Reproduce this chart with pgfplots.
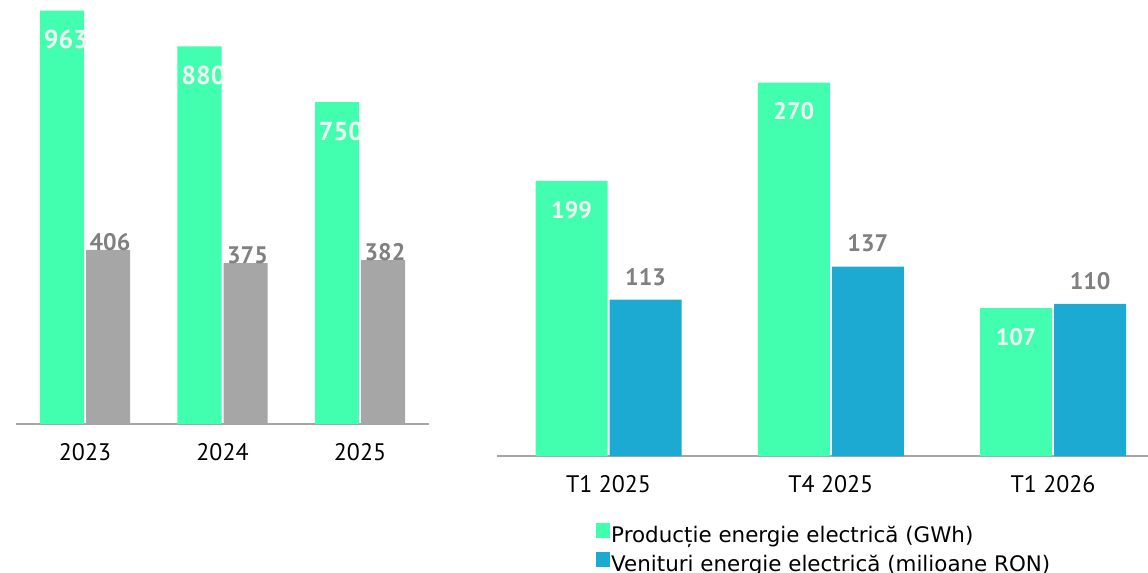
\documentclass[border=0pt]{standalone}
\usepackage{fontspec}
\setmainfont{PT Sans}
\newfontfamily\legfont{DejaVu Sans}
\usepackage{pgfplots}
\usepackage{pgfplotstable}
\pgfplotsset{compat=1.18}

\definecolor{verde}{HTML}{42FFB0}
\definecolor{gri}{HTML}{A6A6A6}
\definecolor{albastru}{HTML}{1DAAD2}
\definecolor{eticheta}{HTML}{808080}
\definecolor{alb}{HTML}{F2F2F2}

% productie anuala (GWh) si a doua serie (gri)
\pgfplotstableread{
x verde gri
0 963 406
1 880 375
2 750 382
}\anual

% trimestrial: productie (GWh) si venituri (mil. RON)
\pgfplotstableread{
x verde albastru
0 199 113
1 270 137
2 107 110
}\trimestrial

\pgfplotsset{
  simplu/.style={
    scale only axis, anchor=south west,
    axis x line=bottom, axis y line=none,
    x axis line style={-, draw=gri, line width=1.5bp},
    ymin=0, xtick=data, ytick=\empty, major tick length=0,
    xticklabel style={font=\fontsize{24}{28}\selectfont, anchor=center, yshift=-28bp},
    /pgf/number format/assume math mode=true,
    clip=false,
  },
  % eticheta alba in interiorul barei: #1 marime, #2 deplasare orizontala
  interior/.style 2 args={every node near coord/.append style={font=\bfseries\fontsize{#1}{28}\selectfont, color=alb, anchor=center, yshift=-29bp, xshift=#2}},
  % eticheta gri deasupra barei: #1 inaltime, #2 deplasare orizontala
  deasupra/.style 2 args={every node near coord/.append style={font=\bfseries\fontsize{24}{28}\selectfont, color=eticheta, anchor=center, yshift=#1, xshift=#2}},
}

\begin{document}
\begin{tikzpicture}
\path[use as bounding box] (0,0) rectangle (1148bp,573bp);

\begin{axis}[simplu,
    at={(16.25bp,149bp)}, width=412.5bp, height=424bp,
    xmin=-0.5, xmax=2.5, ymax=988,
    xticklabels={2023,2024,2025},
]
\addplot[ybar, bar width=44bp, bar shift=-23bp, fill=verde, draw=none,
    nodes near coords, interior={26}{-19bp}] table[x=x, y=verde] {\anual};
\addplot[ybar, bar width=44bp, bar shift=23bp, fill=gri, draw=none,
    nodes near coords, deasupra={8bp}{25bp}] table[x=x, y=gri] {\anual};
\end{axis}

\begin{axis}[simplu,
    at={(497.4bp,117bp)}, width=650.6bp, height=456bp,
    xmin=-0.5, xmax=2.427, ymax=329.7,
    xticklabels={T1 2025,T4 2025,T1 2026},
    legend style={at={(0.1516,-0.146)}, anchor=north west, draw=none, fill=none,
      inner sep=0pt, row sep=3bp,
      font=\legfont\fontsize{21.5}{24}\selectfont,
      nodes={inner sep=1bp, text height=15bp, text depth=5bp}},
    legend cell align=left,
    legend image code/.code={\fill[#1] (0bp,0bp) rectangle (14bp,15bp);},
]
\addplot[ybar, bar width=72bp, bar shift=-37bp, fill=verde, draw=none,
    nodes near coords, interior={24}{-37bp}] table[x=x, y=verde] {\trimestrial};
\addplot[ybar, bar width=72bp, bar shift=37bp, fill=albastru, draw=none,
    nodes near coords, deasupra={23bp}{37bp}] table[x=x, y=albastru] {\trimestrial};
\legend{Producție energie electrică (GWh), Venituri energie electrică (milioane RON)}
\end{axis}
\end{tikzpicture}
\end{document}
